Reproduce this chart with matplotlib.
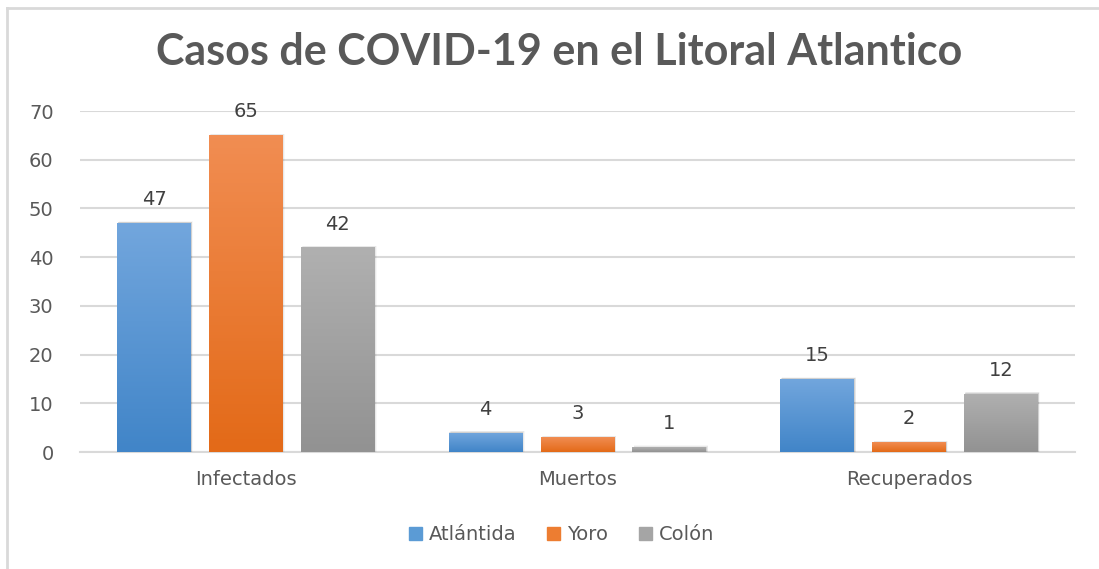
import numpy as np
import matplotlib
matplotlib.use("Agg")
import matplotlib.pyplot as plt
from matplotlib.colors import LinearSegmentedColormap
from matplotlib.patches import Rectangle
from matplotlib.lines import Line2D

categories = ["Infectados", "Muertos", "Recuperados"]
series = ["Atlántida", "Yoro", "Colón"]
atlantida = [47, 4, 15]
yoro = [65, 3, 2]
colon = [42, 1, 12]
values = [atlantida, yoro, colon]

# legend colours and gradient ends (top, bottom)
base_colors = ["#5B9BD5", "#ED7D31", "#A5A5A5"]
gradients = [("#72A6DD", "#4185C8"), ("#F18D52", "#E36A18"), ("#B0B0B0", "#929292")]

text_gray = "#595959"
grid_gray = "#D9D9D9"

fig = plt.figure(figsize=(10.99, 5.69), dpi=100)
# outer chart border (only left and top are visible in the reference)
fig.add_artist(Line2D([7 / 1099, 1.0], [1 - 8 / 569] * 2, transform=fig.transFigure,
                      color="#D9D9D9", linewidth=2))
fig.add_artist(Line2D([7 / 1099] * 2, [0, 1 - 8 / 569], transform=fig.transFigure,
                      color="#D9D9D9", linewidth=2))

ax = fig.add_axes([80 / 1099, 117 / 569, 995 / 1099, 341 / 569])

x = np.arange(len(categories))
width = 0.223
step = 0.277

for i, (name, vals) in enumerate(zip(series, values)):
    bars = ax.bar(x + (i - 1) * step, vals, width, color=base_colors[i],
                  label=name, zorder=3)
    cmap = LinearSegmentedColormap.from_list("g%d" % i, [gradients[i][1], gradients[i][0]])
    for b, v in zip(bars, vals):
        # soft shadow
        for k, a in zip(range(1, 4), [0.10, 0.06, 0.03]):
            ax.add_patch(Rectangle((b.get_x() + 0.002 * k, 0), b.get_width(), b.get_height() + 0.12 * k,
                                   facecolor="black", alpha=a, edgecolor="none", zorder=2))
        img = ax.imshow(np.linspace(0, 1, 100).reshape(-1, 1), cmap=cmap, aspect="auto",
                        extent=(b.get_x(), b.get_x() + b.get_width(), 0, b.get_height()),
                        origin="lower", zorder=4)
        img.set_clip_path(b)
        ax.annotate(str(v), (b.get_x() + b.get_width() / 2, b.get_height()),
                    xytext=(0, 10), textcoords="offset points", ha="center", va="bottom",
                    fontsize=14, color="#404040")

ax.set_xlim(-0.5, 2.5)
ax.set_ylim(0, 70)
ax.set_yticks(range(0, 71, 10))
ax.set_xticks(x)
ax.set_xticklabels(categories)
ax.grid(axis="y", color=grid_gray, linewidth=1.5, zorder=0)
for s in ["top", "right", "left"]:
    ax.spines[s].set_visible(False)
ax.spines["bottom"].set_color(grid_gray)
ax.spines["bottom"].set_linewidth(1.5)
ax.spines["bottom"].set_zorder(1)
ax.tick_params(axis="both", length=0, labelsize=14, labelcolor=text_gray)
ax.tick_params(axis="y", pad=19)
ax.tick_params(axis="x", pad=13)

fig.text(0.509, 1 - 52 / 569, "Casos de COVID-19 en el Litoral Atlantico", ha="center", va="center",
         fontsize=31, fontweight="bold", family="Lato", color=text_gray)

handles = [Rectangle((0, 0), 1, 1, color=c) for c in base_colors]
fig.legend(handles, series, loc="center", bbox_to_anchor=(0.511, 1 - 535 / 569), ncol=3,
           frameon=False, fontsize=14, labelcolor=text_gray, handlelength=0.65, handleheight=0.65,
           handletextpad=0.35, columnspacing=1.6)

fig.savefig("out.png", dpi=100)
